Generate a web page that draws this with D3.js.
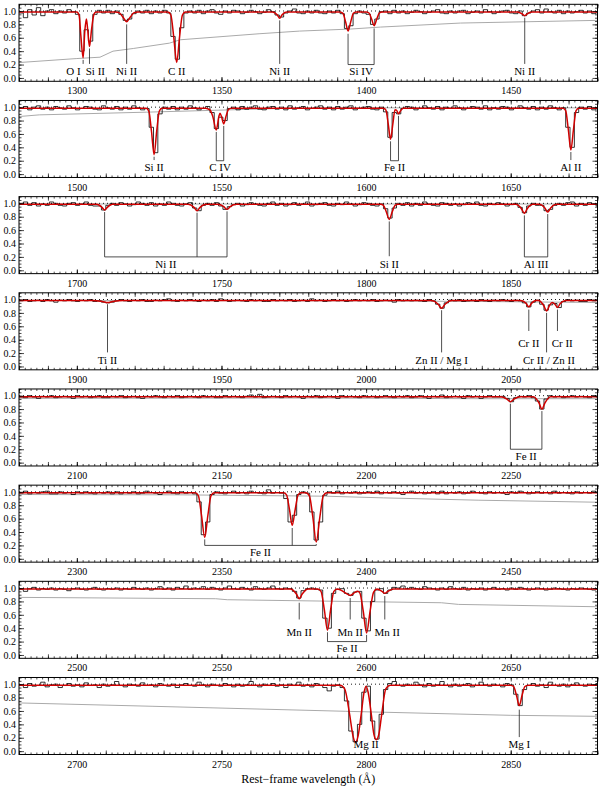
<!DOCTYPE html>
<html><head><meta charset="utf-8">
<script src="https://cdn.jsdelivr.net/npm/d3@7"></script>
<style>
body{margin:0;background:#fff}
svg{display:block}
</style>
</head><body>
<svg id="c" width="600" height="790"></svg>
<script>
// ---------------- DATA ----------------
const panelStarts = [1280,1480,1680,1880,2080,2280,2480,2680];
const panelSpan = 200;      // Angstrom per panel
const binWidth = 1.5;       // Angstrom per histogram bin
const yTickValues = [0.0,0.2,0.4,0.6,0.8,1.0];
const axisTitle = "Rest\u2212frame wavelength (\u00C5)";

// observed normalised flux (x100), one value per bin
const flux1 = [97,90,102,94,105,93,100,102,96,100, 97,102,99,95,40,72,55,95,101,97, 101,96,100,95,86,88,96,100,97,101,
 96,100,97,101,97,62,28,75,97,100, 97,101,96,100,102,97,95,100,97,101, 100,96,98,101,99,96,98,102,99,94,
 91,97,100,103,97,96,100,97,101,97, 96,100,97,101,96,74,78,96,100,97, 95,80,88,99,100,96,101,97,100,96,
 98,101,99,96,98,100,102,97,96,100, 97,100,101,96,98,100,97,102,99,96, 98,100,101,97,96,100,93,97,100,102,
 97,103,99,97,101,96,100,97,99,101, 97,100,96,99];
const flux2 = [98,101,96,100,102,97,100,96,101,99, 97,102,99,96,98,101,100,97,96,102, 99,97,101,96,100,97,102,99,96,98,
 70,32,90,100,97,101,96,100,97,102, 99,96,98,101,92,68,85,80,98,100, 96,101,97,100,102,97,96,100,101,97,
 100,96,102,97,99,101,96,98,100,102, 97,100,96,101,97,100,102,96,98,100, 101,97,96,100,93,55,92,90,98,101,
 100,96,98,102,99,97,101,96,100,98, 102,99,96,98,101,100,97,102,96,99, 97,101,100,96,98,102,99,97,101,96,
 100,97,102,99,96,99,70,40,92,100, 97,101,96,99];
const flux3 = [100,102,97,101,96,99,97,102,100,97, 96,100,101,97,99,102,97,96,96,90, 97,100,97,101,99,96,98,102,100,97,
 101,96,99,97,102,100,97,96,99,101, 93,89,97,100,97,101,96,91,95,98, 100,96,98,101,99,97,96,100,102,97,
 100,96,98,101,97,99,102,96,98,100, 101,97,96,100,98,102,99,96,98,101, 100,97,96,99,92,78,93,100,97,101,
 96,100,97,102,99,97,96,101,100,97, 99,96,98,101,99,102,97,96,100,98, 101,99,96,98,100,94,86,96,100,97,
 97,89,91,97,100,97,101,102,96,100, 97,101,99,96];
const flux4 = [98,100,97,98,99,97,100,98,96,99, 98,100,98,97,99,98,100,97,98,96, 95,96,98,100,98,97,99,98,100,97,
 97,99,98,100,101,98,97,99,98,100, 98,97,99,98,100,97,101,99,97,98, 99,98,97,100,98,99,97,97,100,98,
 99,98,100,97,98,99,97,101,98,99, 97,98,100,98,99,97,98,100,98,99, 98,100,97,98,99,98,96,100,98,99,
 98,99,98,97,100,98,93,87,95,99, 98,100,97,98,99,97,100,98,97,99, 98,100,98,97,99,98,95,89,96,99,
 93,84,92,94,88,97,100,98,99,97, 97,100,98,99];
const flux5 = [98,97,100,98,96,99,98,100,97,98, 99,98,96,100,98,99,97,98,100,97, 97,99,98,100,97,98,99,97,96,99,
 98,100,98,97,99,98,100,97,98,99, 98,97,100,98,99,97,97,100,98,99, 98,97,99,101,98,102,97,98,99,98,
 97,100,98,99,98,96,99,98,100,97, 98,99,98,96,100,98,99,98,97,100, 98,99,97,98,100,98,97,99,98,100,
 97,98,100,98,96,99,98,101,97,98, 99,98,96,100,98,99,96,98,100,98, 98,99,96,91,97,99,98,100,97,92,
 80,95,100,98,99,97,98,100,98,99, 98,97,100,98];
const flux6 = [98,101,97,99,98,100,101,97,97,100, 98,99,96,100,98,100,98,97,99,98, 100,97,100,97,99,98,100,97,98,101,
 99,98,96,99,101,98,97,100,98,99, 97,85,36,55,96,100,98,97,99,101, 98,99,97,101,99,98,97,103,98,99,
 98,90,55,65,96,100,98,70,28,55, 95,100,98,101,97,99,98,100,97,98, 100,98,101,97,99,98,100,98,96,99,
 101,98,99,97,98,100,97,101,97,99, 98,100,97,98,101,99,98,97,100,98, 99,98,96,100,98,101,99,97,98,100,
 98,99,97,101,98,99,98,97,100,98, 99,98,101,99];
const flux7 = [98,95,99,101,97,99,98,100,97,99, 98,96,99,100,98,97,99,101,98,97, 99,98,100,97,99,98,101,99,98,100,
 97,99,102,98,100,97,101,99,103,98, 100,99,102,98,101,99,97,100,103,99, 98,101,99,97,102,99,98,100,103,99,
 98,100,99,95,85,96,99,100,98,97, 55,40,92,98,99,92,89,94,95,55, 36,80,97,99,92,97,101,100,103,99,
 101,99,98,102,100,99,97,100,98,102, 99,98,101,97,99,98,100,97,99,101, 98,99,97,100,98,101,99,97,98,100,
 99,97,98,100,99,98,97,99,98,100, 99,98,97,99];
const flux8 = [99,95,101,97,98,103,96,99,100,95, 98,101,97,99,96,102,98,99,95,100, 97,99,104,98,96,100,99,97,102,98,
 99,96,101,98,97,100,95,99,101,98, 97,103,99,96,100,98,97,101,99,96, 100,97,99,104,98,96,100,98,101,97,
 99,95,100,98,103,97,99,96,101,98, 95,90,97,99,95,75,30,14,40,88, 97,45,18,55,92,101,104,98,97,100,
 98,103,99,96,101,97,99,104,98,96, 100,97,99,101,96,98,103,99,97,100, 98,96,101,99,85,68,92,98,101,97,
 99,95,103,98,97,100,96,99,102,98, 97,100,99,101];

// fitted model: [wavelength, normalised flux] knots
const model1 = [[1280,.985],[1300.0,.985],[1300.8,.93],[1301.37,.64],[1302.17,.30],[1302.75,.70],[1303.3,.88],[1303.75,.72],[1304.37,.47],[1305.1,.73],[1305.9,.95],[1306.6,.985],
 [1313.3,.985],[1314.6,.976],[1315.9,.91],[1317.22,.84],[1318.5,.91],[1319.8,.976],[1321.1,.985],
 [1331.5,.985],[1332.5,.94],[1333.5,.61],[1334.53,.23],[1335.5,.61],[1336.5,.94],[1337.5,.985],
 [1367.7,.985],[1369.3,.94],[1370.13,.89],[1370.9,.94],[1372.5,.985],
 [1391,.985],[1392,.965],[1392.9,.84],[1393.76,.70],[1394.7,.84],[1395.6,.965],[1396.5,.985],
 [1400,.985],[1401,.97],[1401.9,.88],[1402.77,.78],[1403.7,.88],[1404.6,.97],[1405.5,.985],
 [1452.4,.985],[1454,.955],[1454.84,.93],[1455.6,.955],[1457.2,.985],[1480,.985]];
const model2 = [[1480,.985],[1524,.985],[1524.9,.94],[1525.8,.64],[1526.71,.29],[1527.6,.64],[1528.5,.94],[1529.4,.985],
 [1544.5,.985],[1546,.96],[1547,.86],[1548.2,.66],[1549.1,.86],[1549.5,.91],[1550.0,.86],[1550.78,.75],[1551.6,.87],[1552.4,.965],[1553.3,.985],
 [1606,.985],[1606.85,.955],[1607.65,.75],[1608.45,.52],[1609.25,.75],[1610.0,.96],[1610.5,.955],[1611.2,.90],[1611.9,.945],[1612.8,.985],
 [1668.1,.985],[1669,.95],[1669.9,.67],[1670.79,.36],[1671.7,.67],[1672.6,.95],[1673.5,.985],[1680,.985]];
const model3 = [[1680,.985],[1706.9,.985],[1708.7,.94],[1709.6,.90],[1710.5,.94],[1712.3,.985],
 [1738.5,.985],[1740.5,.94],[1741.55,.89],[1742.6,.94],[1744.6,.985],
 [1748.6,.985],[1750.8,.95],[1751.92,.91],[1753,.95],[1755.2,.985],
 [1805,.985],[1806,.97],[1807,.87],[1808.01,.76],[1809,.87],[1810,.97],[1811,.985],
 [1851.7,.985],[1853.7,.92],[1854.72,.85],[1855.7,.92],[1857.7,.985],
 [1859.8,.985],[1861.8,.93],[1862.79,.87],[1863.8,.93],[1865.8,.985],[1880,.985]];
const model4 = [[1880,.985],[1905.2,.985],[1908.8,.97],[1910.6,.955],[1912.4,.97],[1916,.985],
 [2022.5,.985],[2024.9,.93],[2026.1,.87],[2027.3,.93],[2029.7,.985],
 [2053.5,.985],[2055.35,.94],[2056.25,.89],[2057.15,.94],[2058.7,.985],
 [2059.6,.985],[2061.4,.91],[2062.4,.83],[2063.4,.91],[2064.3,.955],[2065.3,.93],[2066.16,.88],[2067.05,.935],[2068.9,.985],[2080,.985]];
const model5 = [[2080,.985],[2246.3,.985],[2248.7,.95],[2249.88,.91],[2251.1,.95],[2253.5,.985],
 [2257.8,.985],[2259.8,.89],[2260.78,.80],[2261.8,.89],[2263.8,.985],[2280,.985]];
const model6 = [[2280,.985],[2340.9,.985],[2342,.945],[2343.1,.65],[2344.21,.32],[2345.3,.65],[2346.4,.945],[2347.5,.985],
 [2371.5,.985],[2372.5,.955],[2373.5,.74],[2374.46,.50],[2375.5,.74],[2376.5,.955],[2377.5,.985],
 [2379.2,.985],[2380.4,.94],[2381.6,.62],[2382.77,.25],[2384,.62],[2385.2,.94],[2386.4,.985],[2480,.985]];
const model7 = [[2480,.985],[2573.9,.985],[2575.9,.91],[2576.88,.84],[2577.9,.91],[2579.9,.985],
 [2583.3,.985],[2584.4,.95],[2585.55,.68],[2586.65,.37],[2587.75,.68],[2588.85,.95],[2590,.985],
 [2591,.975],[2592.7,.93],[2594.5,.89],[2596,.93],[2597,.95],
 [2597.8,.93],[2599,.66],[2600.17,.33],[2601.4,.66],[2602.6,.94],[2603.8,.985],
 [2604.5,.975],[2605.5,.95],[2606.46,.92],[2607.5,.95],[2609.5,.985],[2680,.985]];
const model8 = [[2680,.985],[2791,.985],[2792.6,.93],[2794.3,.55],[2795.5,.22],[2796.35,.13],[2797.2,.22],[2798.3,.55],[2799.3,.88],[2800.0,.97],
 [2800.7,.88],[2801.8,.55],[2802.7,.25],[2803.53,.17],[2804.4,.25],[2805.4,.55],[2806.8,.93],[2808.4,.985],
 [2850,.985],[2851,.965],[2852,.83],[2852.96,.68],[2853.9,.83],[2854.9,.965],[2856,.985],[2880,.985]];

// grey curve: [wavelength, value]
const grey1 = [[1280,.23],[1300,.29],[1308,.31],[1312.5,.40],[1319.5,.44],[1332,.52],[1335.7,.57],[1363,.66],[1377,.70],[1394.5,.73],[1405,.76],[1432.6,.82],[1480,.86]];
const grey2 = [[1480,.86],[1487,.885],[1524,.925],[1553,.96],[1574,.985],[1600,.99],[1680,.99]];
const grey3 = [[1680,.99],[1880,.99]];
const grey4 = [[1880,.985],[2000,.98],[2040,.97],[2080,.955]];
const grey5 = [[2080,.96],[2180,.965],[2240,.955],[2280,.955]];
const grey6 = [[2280,.96],[2336,.955],[2386,.935],[2406,.91],[2439,.875],[2480,.845]];
const grey7 = [[2480,.86],[2548,.84],[2552,.825],[2626,.78],[2632,.755],[2680,.72]];
const grey8 = [[2680,.72],[2726,.67],[2793,.595],[2850,.535],[2880,.52]];

// line identifications: ion, rest wavelengths, flux where marker starts
const ids1 = [
 {t:"O I", l:[1302.17], top:[0.27], at:1298.8},
 {t:"Si II", l:[1304.37], top:[0.44], at:1306.4},
 {t:"Ni II", l:[1317.22], top:[0.80]},
 {t:"C II", l:[1334.53], top:[0.21]},
 {t:"Ni II", l:[1370.13], top:[0.86]},
 {t:"Si IV", l:[1393.76,1402.77], top:[0.66,0.74]},
 {t:"Ni II", l:[1454.84], top:[0.90]}];
const ids2 = [
 {t:"Si II", l:[1526.71], top:[0.26]},
 {t:"C IV", l:[1548.20,1550.78], top:[0.63,0.72]},
 {t:"Fe II", l:[1608.45,1611.2], top:[0.49,0.87]},
 {t:"Al II", l:[1670.79], top:[0.33]}];
const ids3 = [
 {t:"Ni II", l:[1709.6,1741.55,1751.92], top:[0.87,0.86,0.88]},
 {t:"Si II", l:[1808.01], top:[0.73]},
 {t:"Al III", l:[1854.72,1862.79], top:[0.82,0.84]}];
const ids4 = [
 {t:"Ti II", l:[1910.6], top:[0.93]},
 {t:"Zn II / Mg I", l:[2026.1], top:[0.84]},
 {t:"Cr II", l:[2056.25], top:[0.85], mid:true},
 {t:"Cr II / Zn II", l:[2062.4], top:[0.80], at:2063.2},
 {t:"Cr II", l:[2066.16], top:[0.85], mid:true, at:2067.8}];
const ids5 = [{t:"Fe II", l:[2249.88,2260.78], top:[0.88,0.77]}];
const ids6 = [{t:"Fe II", l:[2344.21,2374.46,2382.77], top:[0.29,0.46,0.22]}];
const ids7 = [
 {t:"Mn II", l:[2576.88], top:[0.78], mid:true},
 {t:"Fe II", l:[2586.65,2600.17], top:[0.34,0.30]},
 {t:"Mn II", l:[2594.5], top:[0.85], mid:true},
 {t:"Mn II", l:[2606.46], top:[0.88], mid:true, at:2607.3}];
const ids8 = [
 {t:"Mg II", l:[], top:[], at:2800.0},
 {t:"Mg I", l:[2852.96], top:[0.62]}];

const fluxes = [flux1,flux2,flux3,flux4,flux5,flux6,flux7,flux8];
const models = [model1,model2,model3,model4,model5,model6,model7,model8];
const greys = [grey1,grey2,grey3,grey4,grey5,grey6,grey7,grey8];
const idents = [ids1,ids2,ids3,ids4,ids5,ids6,ids7,ids8];

// ---------------- DRAW ----------------
const svg = d3.select("#c");
const L = 19, R = 597.5, H = 77, TOP0 = 4.3, STEP = 96.17;
const FONT = "'Liberation Serif', 'DejaVu Serif', serif";

panelStarts.forEach((s, k) => {
  const g = svg.append("g").attr("transform", `translate(0,${TOP0 + k*STEP})`);
  const x = d3.scaleLinear().domain([s, s + panelSpan]).range([L, R]);
  const y = d3.scaleLinear().domain([-0.05, 1.1]).range([H, 0]);

  const cid = "clip" + k;
  g.append("clipPath").attr("id", cid).append("rect")
    .attr("x", L).attr("y", 0).attr("width", R - L).attr("height", H);
  const pg = g.append("g").attr("clip-path", `url(#${cid})`);

  const line = d3.line().x(d => x(d[0])).y(d => y(d[1]));

  // grey curve
  pg.append("path").datum(greys[k]).attr("d", line)
    .attr("fill", "none").attr("stroke", "#aaaaaa").attr("stroke-width", 1);

  // histogram spectrum
  const f = fluxes[k];
  const pts = f.map((v, i) => [s + i*binWidth, v/100]);
  pts.push([s + f.length*binWidth, f[f.length-1]/100]);
  pg.append("path").datum(pts).attr("d", d3.line().x(d => x(d[0])).y(d => y(d[1])).curve(d3.curveStepAfter))
    .attr("fill", "none").attr("stroke", "#000").attr("stroke-width", 0.8);

  // model
  pg.append("path").datum(models[k])
    .attr("d", d3.line().x(d => x(d[0])).y(d => y(d[1])).curve(d3.curveMonotoneX))
    .attr("fill", "none").attr("stroke", "#d10000").attr("stroke-width", 1.5)
    .attr("stroke-linejoin", "round");

  // continuum level
  pg.append("line").attr("x1", L).attr("x2", R).attr("y1", y(1)).attr("y2", y(1))
    .attr("stroke", "#000").attr("stroke-width", 0.9).attr("stroke-dasharray", "1,3");

  // identifications
  idents[k].forEach(a => {
    const base = a.mid ? 0.53 : (a.l.length > 1 ? 0.2 : 0.21);
    const tyv = a.mid ? 0.29 : 0.04;
    a.l.forEach((w, j) => {
      if (a.top[j] - base > 0.015)
        g.append("line").attr("x1", x(w)).attr("x2", x(w))
          .attr("y1", y(a.top[j])).attr("y2", y(base))
          .attr("stroke", "#222").attr("stroke-width", 0.8);
    });
    if (a.l.length > 1) {
      g.append("line").attr("x1", x(d3.min(a.l))).attr("x2", x(d3.max(a.l)))
        .attr("y1", y(base)).attr("y2", y(base))
        .attr("stroke", "#222").attr("stroke-width", 0.8);
    }
    const tx = a.at !== undefined ? a.at : (d3.min(a.l) + d3.max(a.l)) / 2;
    g.append("text").attr("x", x(tx)).attr("y", y(tyv))
      .attr("text-anchor", "middle").style("font-family", FONT).style("font-size", "11px")
      .attr("fill", "#000").text(a.t);
  });

  // axes
  const majors = d3.range(Math.ceil(s/50)*50, s + panelSpan + 0.01, 50);
  const tens = d3.range(Math.ceil(s/10)*10, s + panelSpan + 0.01, 10);
  const twos = d3.range(Math.ceil(s/2)*2, s + panelSpan + 0.01, 2);
  const styleAxis = sel => {
    sel.select(".domain").remove();
    sel.selectAll("line").attr("stroke", "#000").attr("stroke-width", 0.7);
    sel.selectAll("text").style("font-family", FONT).style("font-size", "10px").attr("fill", "#000");
  };
  g.append("g").attr("transform", `translate(0,${H})`)
    .call(d3.axisBottom(x).tickValues(twos).tickSize(-2).tickFormat("")).call(styleAxis);
  g.append("g").attr("transform", `translate(0,${H})`)
    .call(d3.axisBottom(x).tickValues(tens).tickSize(-4).tickFormat("")).call(styleAxis);
  g.append("g").attr("transform", `translate(0,${H})`)
    .call(d3.axisBottom(x).tickValues(majors).tickSize(-4).tickPadding(6).tickFormat(d3.format("d"))).call(styleAxis);
  g.append("g")
    .call(d3.axisTop(x).tickValues(twos).tickSize(-2).tickFormat("")).call(styleAxis);
  g.append("g")
    .call(d3.axisTop(x).tickValues(tens).tickSize(-4).tickFormat("")).call(styleAxis);

  const yMinor = d3.range(0, 1.101, 0.05);
  g.append("g").attr("transform", `translate(${L},0)`)
    .call(d3.axisLeft(y).tickValues(yMinor).tickSize(-2.5).tickFormat("")).call(styleAxis);
  g.append("g").attr("transform", `translate(${L},0)`)
    .call(d3.axisLeft(y).tickValues(yTickValues).tickSize(-5).tickPadding(3).tickFormat(d3.format(".1f"))).call(styleAxis);
  g.append("g").attr("transform", `translate(${R},0)`)
    .call(d3.axisRight(y).tickValues(yMinor).tickSize(-2.5).tickFormat("")).call(styleAxis);
  g.append("g").attr("transform", `translate(${R},0)`)
    .call(d3.axisRight(y).tickValues(yTickValues).tickSize(-5).tickFormat("")).call(styleAxis);

  // frame
  g.append("rect").attr("x", L).attr("y", 0).attr("width", R - L).attr("height", H)
    .attr("fill", "none").attr("stroke", "#000").attr("stroke-width", 1);
});

svg.append("text").attr("x", (L + R)/2).attr("y", 783)
  .attr("text-anchor", "middle").style("font-family", FONT).style("font-size", "12px")
  .attr("fill", "#000").text(axisTitle);
</script>
</body></html>
